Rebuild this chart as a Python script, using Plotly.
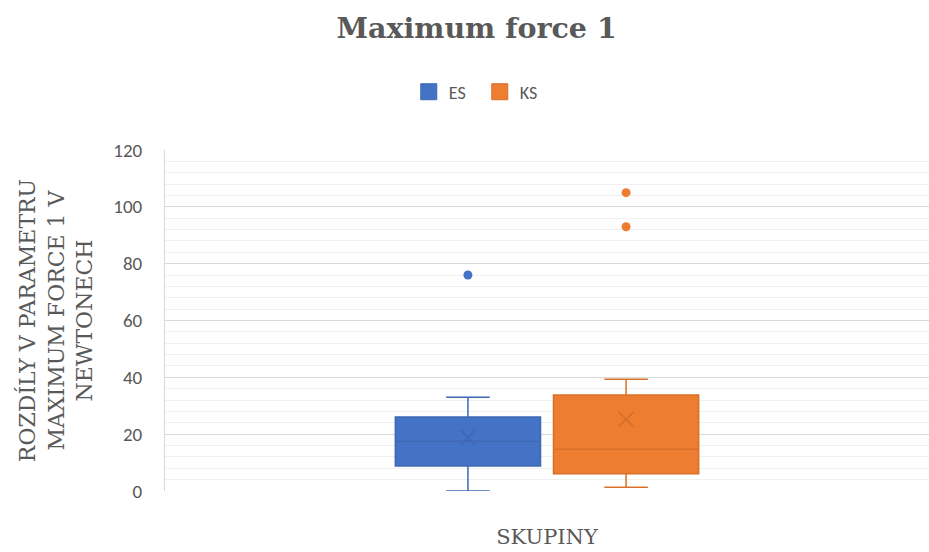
import plotly.graph_objects as go

# Summary statistics per group (differences in Maximum force 1, newtons)
groups = ["ES", "KS"]
category = "SKUPINY"
lower_fence = [0.0, 1.3]
q1 = [8.8, 6.1]
median = [17.5, 14.7]
q3 = [26.0, 33.8]
upper_fence = [33.0, 39.3]
means = [18.9, 25.2]
outliers = [[76.0], [105.0, 93.0]]

fill_colors = ["#4472C4", "#ED7D31"]
line_colors = ["#3E68B4", "#D8702A"]

y_ticks = [0, 20, 40, 60, 80, 100, 120]

GRAY = "#595959"
SERIF = "DejaVu Serif"
SANS = "Calibri, Carlito, Liberation Sans, Arial, sans-serif"

BOXGAP = 0.586

fig = go.Figure()

for i, g in enumerate(groups):
    fig.add_trace(go.Box(
        name=g,
        x=[category],
        q1=[q1[i]],
        median=[median[i]],
        q3=[q3[i]],
        lowerfence=[lower_fence[i]],
        upperfence=[upper_fence[i]],
        offsetgroup=g,
        fillcolor=fill_colors[i],
        line=dict(color=line_colors[i], width=1.5),
        whiskerwidth=0.3,
        boxpoints=False,
        showlegend=False,
        hoverinfo="skip",
    ))
    # mean marker
    fig.add_trace(go.Scatter(
        x=[category],
        y=[means[i]],
        mode="markers",
        offsetgroup=g,
        marker=dict(symbol="x-thin", size=15,
                    line=dict(color=line_colors[i], width=1.6),
                    color=line_colors[i]),
        showlegend=False,
        hoverinfo="skip",
    ))
    # outlier points
    fig.add_trace(go.Scatter(
        x=[category] * len(outliers[i]),
        y=outliers[i],
        mode="markers",
        offsetgroup=g,
        marker=dict(symbol="circle", size=9, color=fill_colors[i]),
        showlegend=False,
        hoverinfo="skip",
    ))
    # legend entry
    fig.add_trace(go.Scatter(
        x=[None],
        y=[None],
        name=g,
        mode="markers",
        marker=dict(symbol="square", size=16, color=fill_colors[i],
                    line=dict(color=line_colors[i], width=1)),
        showlegend=True,
    ))

fig.update_layout(
    width=929,
    height=552,
    margin=dict(l=165, r=0, t=150, b=61),
    paper_bgcolor="white",
    plot_bgcolor="white",
    boxmode="group",
    boxgap=BOXGAP,
    boxgroupgap=0.082,
    scattermode="group",
    scattergap=BOXGAP,
    title=dict(
        text="<b>Maximum force 1</b>",
        font=dict(family=SERIF, size=28.5, color=GRAY),
        x=0.513, xanchor="center",
        y=1 - 28 / 552, yanchor="middle",
    ),
    legend=dict(
        orientation="h",
        x=0.412, xanchor="center",
        y=1.17, yanchor="middle",
        font=dict(family=SANS, size=18, color=GRAY),
        itemsizing="trace",
        entrywidth=26,
        traceorder="normal",
    ),
    xaxis=dict(
        type="category",
        showticklabels=False,
        showgrid=False,
        zeroline=False,
        showline=False,
        ticks="",
        title=dict(text="SKUPINY", font=dict(family=SERIF, size=21, color=GRAY),
                   standoff=38),
    ),
    yaxis=dict(
        range=[0, 120],
        tickvals=y_ticks,
        tickfont=dict(family=SANS, size=19, color=GRAY),
        ticklabelstandoff=18,
        showgrid=True,
        gridcolor="#D9D9D9",
        gridwidth=1.2,
        minor=dict(dtick=4, showgrid=True, gridcolor="#EFEFEF", gridwidth=1),
        zeroline=False,
        showline=True,
        linecolor="#D9D9D9",
        linewidth=1,
        title=dict(
            text="ROZDÍLY V PARAMETRU<br>MAXIMUM FORCE 1 V<br>NEWTONECH",
            font=dict(family=SERIF, size=22, color=GRAY),
            standoff=14,
        ),
    ),
)

fig.write_html("out.html")
